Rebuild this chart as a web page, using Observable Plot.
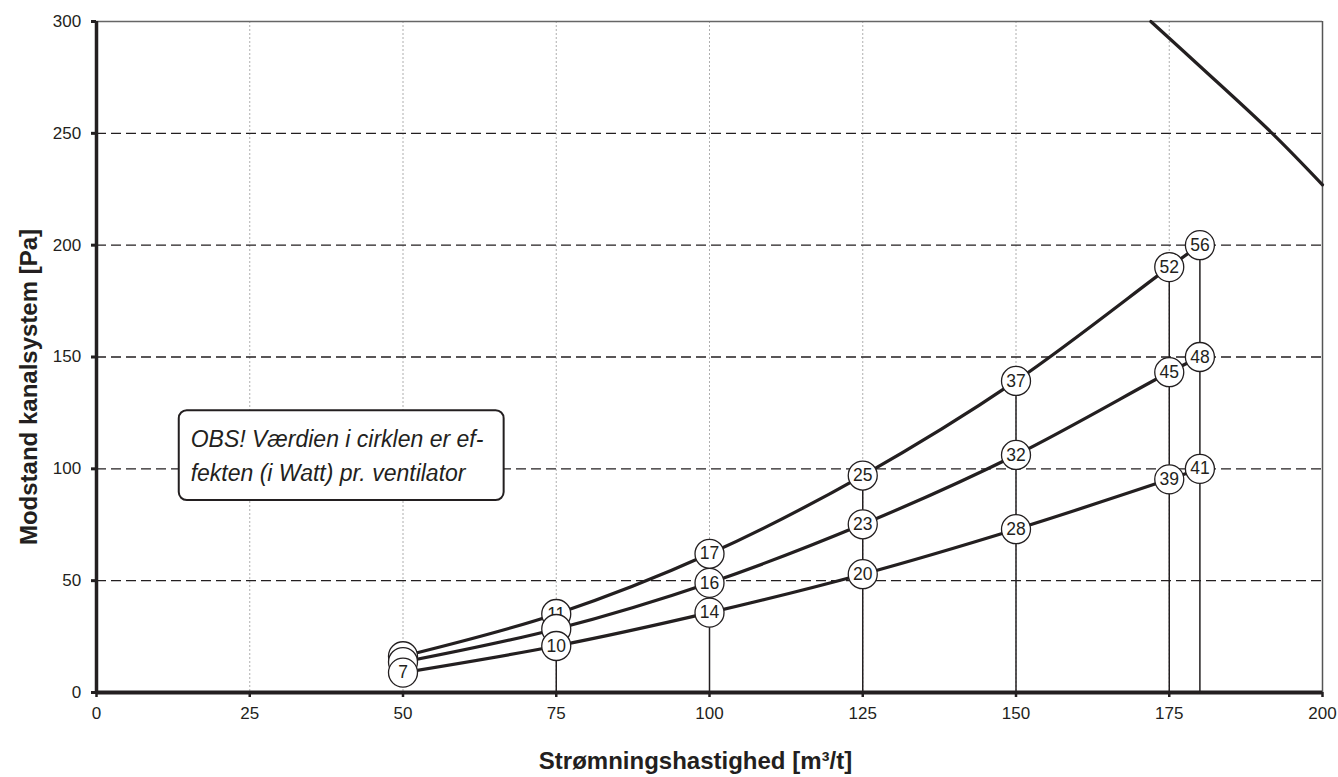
<!DOCTYPE html>
<html>
<head>
<meta charset="utf-8">
<script src="https://cdn.jsdelivr.net/npm/d3@7"></script>
<script src="https://cdn.jsdelivr.net/npm/@observablehq/plot@0.6"></script>
<style>
  html, body { margin: 0; padding: 0; background: #fff; }
  #chart { width: 1338px; height: 777px; }
</style>
</head>
<body>
<div id="chart"></div>
<script>
// ---- data ----
const flow = [50, 75, 100, 125, 150, 175, 180];
const seriesTop = [16.2, 35.1, 62.0, 97.0, 139.3, 190.2, 200];
const seriesMid = [13.6, 28.4, 49.0, 75.2, 106.2, 143.2, 150];
const seriesLow = [8.9, 20.8, 35.7, 52.9, 73.0, 95.3, 100];
const wattTop = ["", "11", "17", "25", "37", "52", "56"];
const wattMid = ["", "", "16", "23", "32", "45", "48"];
const wattLow = ["7", "10", "14", "20", "28", "39", "41"];

const fanFlow = [172, 180, 191.8, 200];
const fanPressure = [300, 280, 250, 227];

const xTicks = [0, 25, 50, 75, 100, 125, 150, 175, 200];
const yTicks = [0, 50, 100, 150, 200, 250, 300];
const xGrid = [25, 50, 75, 100, 125, 150, 175];
const yGrid = [50, 100, 150, 200, 250];

const xLabel = "Strømningshastighed [m³/t]";
const yLabel = "Modstand kanalsystem [Pa]";
const noteText = "OBS! Værdien i cirklen er ef-\nfekten (i Watt) pr. ventilator";
const note = {x1: 13.5, x2: 66.5, y1: 85.8, y2: 126};

// ---- build tables ----
const mk = (ys, labels, name) => flow.map((x, i) => ({x, y: ys[i], label: labels[i], series: name}));
const ptsTop = mk(seriesTop, wattTop, "top");
const ptsMid = mk(seriesMid, wattMid, "mid");
const ptsLow = mk(seriesLow, wattLow, "low");
const fan = fanFlow.map((x, i) => ({x, y: fanPressure[i]}));
const drops = flow.slice(1).map((x, k) => ({x, y: (x <= 100 ? seriesLow : seriesTop)[k + 1]}));

const ink = "#231f20";

const dotsAndLabels = (d) => [
  Plot.dot(d, {x: "x", y: "y", r: 14.5, fill: "white", stroke: ink, strokeWidth: 1.3}),
  Plot.text(d.filter(p => p.label), {x: "x", y: "y", text: "label", fontSize: 17.5, fill: ink})
];

const chart = Plot.plot({
  width: 1338,
  height: 777,
  marginLeft: 96,
  marginRight: 16,
  marginTop: 21,
  marginBottom: 85,
  x: {domain: [0, 200]},
  y: {domain: [0, 300]},
  style: {fontFamily: "'Liberation Sans', Arial, sans-serif", fontSize: "17px", color: ink, background: "white"},
  marks: [
    Plot.ruleX(xGrid, {stroke: "#9a9a9a", strokeWidth: 0.8, strokeDasharray: "2,2"}),
    Plot.ruleY(yGrid, {stroke: ink, strokeWidth: 1.3, strokeDasharray: "10,5"}),
    Plot.ruleY([300], {stroke: "#666", strokeWidth: 1.5}),
    Plot.ruleX([200], {stroke: "#555", strokeWidth: 1.5}),
    Plot.rect([note], {x1: "x1", x2: "x2", y1: "y1", y2: "y2", fill: "white", stroke: ink, strokeWidth: 2, rx: 8}),
    Plot.text([noteText], {x: 15.36, y: 120.4, lineAnchor: "top", textAnchor: "start", fontStyle: "italic", fontSize: 23, lineHeight: 1.48, fill: ink}),
    Plot.ruleX(drops, {x: "x", y1: 0, y2: "y", stroke: ink, strokeWidth: 1.5}),
    Plot.line(fan, {x: "x", y: "y", curve: "catmull-rom", stroke: ink, strokeWidth: 3.2}),
    Plot.line(ptsTop, {x: "x", y: "y", curve: "catmull-rom", stroke: ink, strokeWidth: 3.2}),
    Plot.line(ptsMid, {x: "x", y: "y", curve: "catmull-rom", stroke: ink, strokeWidth: 3.2}),
    Plot.line(ptsLow, {x: "x", y: "y", curve: "catmull-rom", stroke: ink, strokeWidth: 3.2}),
    ...dotsAndLabels(ptsTop),
    ...dotsAndLabels(ptsMid),
    ...dotsAndLabels(ptsLow),
    Plot.ruleX([0], {stroke: ink, strokeWidth: 3.5}),
    Plot.ruleY([0], {stroke: ink, strokeWidth: 4}),
    Plot.axisX({ticks: xTicks, tickSize: 5, strokeWidth: 2.5, stroke: ink, tickFormat: () => "", label: null}),
    Plot.axisY({ticks: yTicks, tickSize: 5, strokeWidth: 3, stroke: ink, tickFormat: () => "", label: null}),
    Plot.text(xTicks, {x: d => d, frameAnchor: "bottom", lineAnchor: "top", textAnchor: "middle", dy: 14.5, fontSize: 17, fill: ink}),
    Plot.text(yTicks, {y: d => d, frameAnchor: "left", lineAnchor: "middle", textAnchor: "end", dx: -15.3, fontSize: 17, fill: ink}),
    Plot.text([xLabel], {frameAnchor: "bottom", lineAnchor: "middle", textAnchor: "middle", dx: -14, dy: 69, fontWeight: "bold", fontSize: 24, fill: ink}),
    Plot.text([yLabel], {frameAnchor: "left", lineAnchor: "middle", textAnchor: "middle", rotate: -90, dx: -67, dy: 30, fontWeight: "bold", fontSize: 24, fill: ink})
  ]
});
document.getElementById("chart").appendChild(chart);
</script>
</body>
</html>
